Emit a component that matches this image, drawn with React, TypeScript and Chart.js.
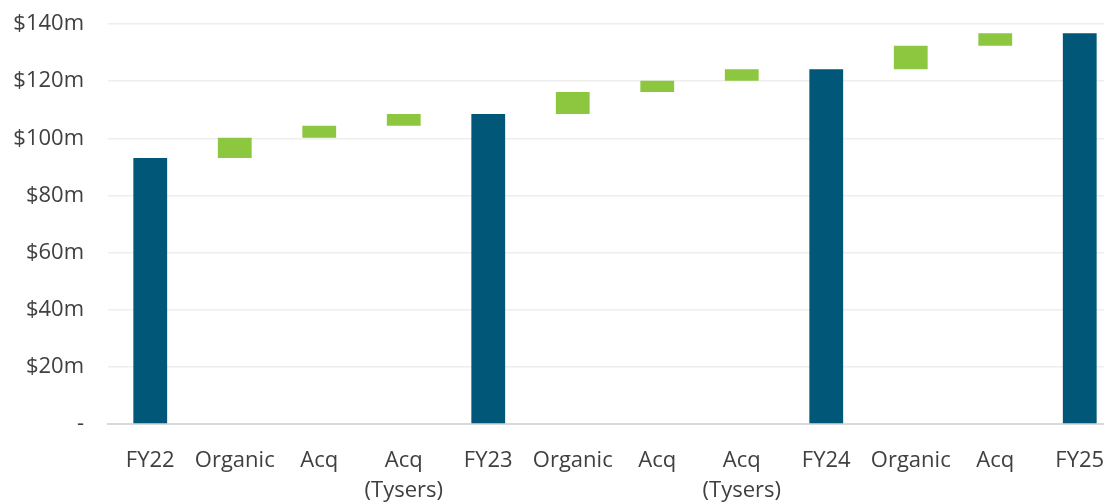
import React, { useEffect, useRef } from "react";
import { Chart, registerables } from "chart.js";

Chart.register(...registerables);

// Waterfall steps: yearly totals bridged by organic growth and acquisitions ($m)
const categories: (string | string[])[] = [
  "FY22", "Organic", "Acq", ["Acq", "(Tysers)"],
  "FY23", "Organic", "Acq", ["Acq", "(Tysers)"],
  "FY24", "Organic", "Acq",
  "FY25",
];
const totals: (number | null)[] = [93.1, null, null, null, 108.5, null, null, null, 124.2, null, null, 136.8];
const changes: (number | null)[] = [null, 7.1, 4.2, 4.1, null, 7.7, 3.9, 4.1, null, 8.2, 4.4, null];
const yTicks = [0, 20, 40, 60, 80, 100, 120, 140];

const TOTAL_COLOR = "#005778";
const CHANGE_COLOR = "#8DC63F";
const TEXT_COLOR = "#404040";

// Turn totals and increments into floating [from, to] ranges
function buildRanges(): [number, number][] {
  const out: [number, number][] = [];
  let running = 0;
  for (let i = 0; i < categories.length; i++) {
    const t = totals[i];
    const c = changes[i];
    if (t !== null) {
      running = t;
      out.push([0, t]);
    } else if (c !== null) {
      out.push([running, running + c]);
      running += c;
    }
  }
  return out;
}

export default function App() {
  const canvasRef = useRef<HTMLCanvasElement | null>(null);

  useEffect(() => {
    if (!canvasRef.current) return;
    const ranges = buildRanges();
    const colors = categories.map((_, i) => (totals[i] !== null ? TOTAL_COLOR : CHANGE_COLOR));
    const font = { family: "'Open Sans', 'Noto Sans', sans-serif", size: 22, lineHeight: 1.36 };

    const chart = new Chart(canvasRef.current, {
      type: "bar",
      data: {
        labels: categories as any,
        datasets: [
          {
            data: ranges as any,
            backgroundColor: colors,
            borderWidth: 0,
            barPercentage: 0.4,
            categoryPercentage: 1,
          },
        ],
      },
      options: {
        animation: false,
        responsive: true,
        maintainAspectRatio: false,
        layout: { padding: { top: 24, left: 0, right: 0, bottom: 0 } },
        plugins: {
          legend: { display: false },
          tooltip: { enabled: false },
        },
        scales: {
          x: {
            grid: { display: false, drawTicks: false },
            border: { display: true, color: "#d9d9d9", width: 2 },
            ticks: {
              color: TEXT_COLOR,
              font,
              padding: 22,
              maxRotation: 0,
              autoSkip: false,
            },
            afterFit: (axis: any) => {
              axis.height = 79;
              axis.paddingLeft = 0;
              axis.paddingRight = 0;
            },
          },
          y: {
            min: 0,
            max: 140,
            afterBuildTicks: (axis: any) => {
              axis.ticks = yTicks.map((v) => ({ value: v }));
            },
            grid: { color: "#eeeeee", lineWidth: 1.5, drawTicks: false },
            border: { display: false },
            ticks: {
              color: TEXT_COLOR,
              font,
              padding: 24,
              callback: (v: any) => (Number(v) === 0 ? "-" : `$${v}m`),
            },
            afterFit: (axis: any) => {
              axis.width = 108;
              axis.paddingTop = 0;
              axis.paddingBottom = 0;
            },
          },
        },
      },
    });

    return () => chart.destroy();
  }, []);

  return (
    <div style={{ position: "fixed", left: 0, top: 0, width: 1104, height: 503, overflow: "hidden", background: "#fff" }}>
      <div style={{ position: "relative", width: 1122, height: 503 }}>
        <canvas ref={canvasRef} />
      </div>
    </div>
  );
}
